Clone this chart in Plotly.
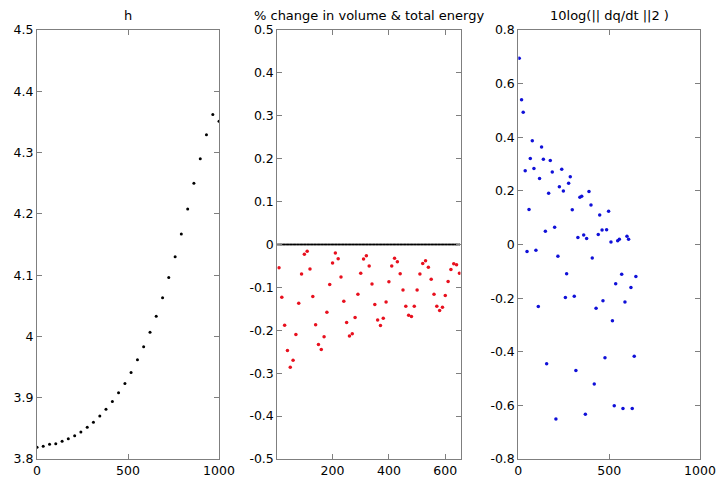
import plotly.graph_objects as go
from plotly.subplots import make_subplots

# ---- Panel 1: h ----
h_x = [0, 34, 69, 103, 138, 172, 207, 241, 276, 310, 345, 379, 414, 448, 483,
       517, 552, 586, 621, 655, 690, 724, 759, 793, 828, 862, 897, 931, 966, 1000]
h_y = [3.819, 3.821, 3.824, 3.825, 3.829, 3.833, 3.838, 3.844, 3.852, 3.860,
       3.870, 3.881, 3.894, 3.908, 3.923, 3.941, 3.962, 3.983, 4.007, 4.033,
       4.063, 4.096, 4.130, 4.167, 4.208, 4.250, 4.290, 4.329, 4.362, 4.351]

# ---- Panel 2: % change in volume (black) & total energy (red) ----
energy_x = [10 * k for k in range(1, 66)]
energy_y = [-0.054, -0.123, -0.188, -0.247, -0.286, -0.270, -0.210, -0.137, -0.069, -0.023,
            -0.016, -0.057, -0.121, -0.187, -0.233, -0.245, -0.215, -0.158, -0.093, -0.043,
            -0.020, -0.033, -0.076, -0.132, -0.182, -0.213, -0.208, -0.170, -0.116, -0.067,
            -0.034, -0.026, -0.050, -0.092, -0.140, -0.176, -0.189, -0.172, -0.134, -0.087,
            -0.050, -0.032, -0.040, -0.068, -0.106, -0.144, -0.165, -0.168, -0.144, -0.106,
            -0.069, -0.044, -0.038, -0.053, -0.081, -0.116, -0.144, -0.154, -0.146, -0.119,
            -0.086, -0.058, -0.045, -0.047, -0.067]
volume_x = [5 * k for k in range(1, 131)]
volume_y = [0.0] * len(volume_x)

# ---- Panel 3: 10log(|| dq/dt ||2) ----
dq_x = [5, 18, 27, 38, 48, 59, 66, 77, 86, 97, 110, 117, 128, 138, 149, 156, 167, 176,
        187, 200, 207, 218, 226, 239, 248, 259, 266, 277, 286, 297, 308, 317, 328, 339,
        349, 360, 369, 376, 389, 400, 407, 418, 428, 440, 448, 461, 466, 477, 486, 497,
        510, 518, 528, 536, 547, 556, 569, 576, 587, 598, 607, 620, 627, 638, 647]
dq_y = [0.695, 0.540, 0.493, 0.275, -0.026, 0.131, 0.321, 0.387, 0.283, -0.021, -0.231,
        0.246, 0.364, 0.318, 0.049, -0.445, 0.191, 0.313, 0.270, 0.064, -0.651, -0.044,
        0.215, 0.281, 0.200, -0.198, -0.109, 0.228, 0.253, 0.130, -0.193, -0.470, 0.026,
        0.176, 0.180, 0.035, -0.633, 0.022, 0.198, 0.147, -0.050, -0.520, -0.238, 0.037,
        0.110, 0.054, -0.210, -0.422, 0.055, 0.124, 0.009, -0.284, -0.601, -0.146, 0.014,
        0.020, -0.111, -0.612, -0.214, 0.031, 0.020, -0.160, -0.612, -0.417, -0.119]

# ---- Tick labels ----
h_yticks = [3.8, 3.9, 4.0, 4.1, 4.2, 4.3, 4.4, 4.5]
h_yticktext = ["3.8", "3.9", "4", "4.1", "4.2", "4.3", "4.4", "4.5"]
e_yticks = [0.5, 0.4, 0.3, 0.2, 0.1, 0, -0.1, -0.2, -0.3, -0.4, -0.5]
e_yticktext = ["0.5", "0.4", "0.3", "0.2", "0.1", "0", "-0.1", "-0.2", "-0.3", "-0.4", "-0.5"]
d_yticks = [0.8, 0.6, 0.4, 0.2, 0, -0.2, -0.4, -0.6, -0.8]
d_yticktext = ["0.8", "0.6", "0.4", "0.2", "0", "-0.2", "-0.4", "-0.6", "-0.8"]
x_ticks_1000 = [0, 500, 1000]
x_ticks_650 = [200, 400, 600]

titles = ["h", "% change in volume & total energy", "10log(|| dq/dt ||2 )"]

fig = make_subplots(rows=1, cols=3)

fig.add_trace(go.Scatter(x=h_x, y=h_y, mode="markers",
                         marker=dict(color="black", size=3)), row=1, col=1)
fig.add_trace(go.Scatter(x=volume_x, y=volume_y, mode="markers",
                         marker=dict(color="black", size=2)), row=1, col=2)
fig.add_trace(go.Scatter(x=energy_x, y=energy_y, mode="markers",
                         marker=dict(color="#e8101e", size=3.5)), row=1, col=2)
fig.add_trace(go.Scatter(x=dq_x, y=dq_y, mode="markers",
                         marker=dict(color="#1010d8", size=3.5)), row=1, col=3)

W, H = 717, 481
xdoms = [(37 / W, 219 / W), (277.3 / W, 460.5 / W), (518.3 / W, 700 / W)]
ydom = (1 - 459 / H, 1 - 30 / H)

FONT = "DejaVu Sans"
axis_common = dict(showline=True, mirror="ticks", linecolor="#7f7f7f", linewidth=1,
                   ticks="inside", ticklen=5, tickcolor="#7f7f7f", showgrid=False,
                   zeroline=False, automargin=False,
                   tickfont=dict(family=FONT, size=12.5, color="black"))

fig.update_layout(
    width=W, height=H, showlegend=False,
    paper_bgcolor="white", plot_bgcolor="white",
    margin=dict(l=0, r=0, t=0, b=0),
    xaxis=dict(domain=xdoms[0], range=[0, 1000], tickvals=x_ticks_1000, **axis_common),
    yaxis=dict(domain=ydom, range=[3.8, 4.5], tickvals=h_yticks, ticktext=h_yticktext, **axis_common),
    xaxis2=dict(domain=xdoms[1], range=[4, 654], tickvals=x_ticks_650, **axis_common),
    yaxis2=dict(domain=ydom, range=[-0.5, 0.5], tickvals=e_yticks, ticktext=e_yticktext, **axis_common),
    xaxis3=dict(domain=xdoms[2], range=[0, 1000], tickvals=x_ticks_1000, **axis_common),
    yaxis3=dict(domain=ydom, range=[-0.8, 0.8], tickvals=d_yticks, ticktext=d_yticktext, **axis_common),
)

for i, t in enumerate(titles):
    fig.add_annotation(text=t, x=(xdoms[i][0] + xdoms[i][1]) / 2, y=1 - 15 / H,
                       xref="paper", yref="paper", showarrow=False,
                       xanchor="center", yanchor="middle",
                       font=dict(family=FONT, size=13, color="black"))

fig.write_html("out.html", config={"displayModeBar": False},
               post_script="document.body.style.margin='0';document.body.style.overflow='hidden';")
